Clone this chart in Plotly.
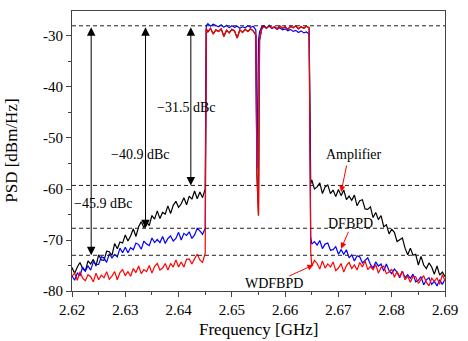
import plotly.graph_objects as go

# ---------------- data ----------------
freq_left = [round(2.620 + 0.0005 * i, 4) for i in range(51)]          # 2.6200 .. 2.6450
freq_band_l = [2.6452] + [round(2.6455 + 0.0005 * i, 4) for i in range(18)]  # 2.6452 .. 2.6540
freq_dip = [2.6545, 2.6547, 2.6550, 2.6552]
freq_band_r = [2.6556] + [round(2.6560 + 0.0005 * i, 4) for i in range(18)]  # 2.6556 .. 2.6645
freq_edge = [2.6648]
freq_right = [round(2.665 + 0.0005 * i, 4) for i in range(51)]         # 2.6650 .. 2.6900
freq = freq_left + freq_band_l + freq_dip + freq_band_r + freq_edge + freq_right

amp_left = [-75.4, -76.5, -75.3, -74.4, -75.6, -76.1, -74.1, -74.7, -73.8, -75.1,
            -72.9, -73.9, -74.0, -72.2, -72.3, -73.0, -70.7, -71.7, -70.4, -70.6,
            -69.0, -70.2, -69.2, -67.8, -69.3, -67.4, -66.4, -67.6, -66.4, -67.2,
            -65.2, -65.9, -64.3, -65.8, -64.6, -64.9, -63.3, -64.8, -63.2, -62.4,
            -63.6, -62.9, -61.7, -63.1, -61.4, -62.0, -60.4, -61.9, -60.6, -61.7, -60.0]
dfb_left = [-77.0, -77.9, -76.5, -77.0, -75.3, -76.1, -75.1, -75.9, -74.3, -74.8,
            -74.8, -73.3, -73.5, -74.4, -72.7, -73.5, -72.8, -73.3, -71.6, -72.5,
            -71.4, -72.5, -71.5, -71.9, -70.6, -70.9, -71.8, -70.2, -70.8, -71.1,
            -69.6, -70.5, -69.9, -70.5, -69.3, -70.7, -69.7, -69.2, -70.2, -69.7,
            -68.5, -70.0, -68.7, -69.1, -68.4, -69.7, -69.0, -67.7, -68.2, -68.9, -67.7]
wdf_left = [-77.1, -76.5, -77.9, -76.2, -77.5, -78.0, -76.8, -77.2, -78.2, -76.5,
            -77.8, -76.9, -77.4, -76.2, -77.7, -77.1, -76.2, -77.8, -76.4, -75.8,
            -77.0, -76.2, -77.1, -75.6, -76.4, -75.1, -76.6, -75.8, -76.2, -75.0,
            -76.5, -75.2, -74.6, -75.9, -75.5, -74.6, -75.9, -74.6, -75.3, -73.9,
            -75.3, -74.3, -75.3, -73.8, -73.7, -74.7, -73.7, -72.8, -73.9, -74.4, -72.6]

dfb_band_l = [-28.0, -27.6, -28.1, -27.7, -27.9, -28.2, -27.8, -28.3, -27.9, -28.4,
              -28.0, -28.3, -28.1, -28.5, -28.2, -28.4, -28.0, -28.3, -28.1]
wdf_band_l = [-28.6, -29.2, -28.5, -29.6, -28.8, -29.1, -28.6, -30.1, -28.9, -29.4,
              -28.7, -29.0, -30.4, -28.8, -29.3, -28.7, -29.1, -28.6, -29.0]
dfb_dip = [-28.8, -56.0, -30.8, -29.2]
wdf_dip = [-29.8, -57.0, -65.2, -30.8]
dfb_band_r = [-28.2, -28.0, -28.4, -28.1, -28.5, -28.3, -28.7, -28.4, -28.8, -28.6,
              -29.0, -28.7, -29.1, -28.9, -29.3, -29.0, -29.4, -29.2, -29.6]
wdf_band_r = [-28.6, -28.1, -28.5, -27.9, -28.4, -28.2, -28.6, -28.0, -28.5, -28.2,
              -28.7, -28.1, -28.4, -28.0, -28.6, -28.2, -28.5, -28.1, -28.4]
amp_edge = [-59.0]
dfb_edge = [-69.4]
wdf_edge = [-72.3]

amp_right = [-58.2, -60.0, -59.6, -58.8, -60.9, -59.6, -59.2, -60.9, -60.2, -61.5,
             -60.1, -61.3, -60.2, -62.1, -61.4, -62.2, -61.2, -63.3, -62.3, -62.1,
             -63.9, -64.0, -63.5, -65.6, -64.6, -66.0, -65.2, -67.4, -67.0, -68.8,
             -67.9, -68.5, -70.3, -69.9, -69.6, -71.6, -72.9, -71.6, -73.0, -72.8,
             -74.9, -73.2, -74.9, -75.6, -74.5, -75.3, -76.7, -75.1, -76.9, -76.3, -77.2]
dfb_right = [-70.8, -70.3, -71.0, -70.1, -71.7, -70.8, -70.6, -72.0, -71.9, -71.3,
             -72.8, -71.9, -72.8, -71.9, -73.5, -72.9, -74.1, -73.1, -73.3, -74.5,
             -73.9, -73.5, -74.8, -75.5, -74.3, -75.1, -74.7, -76.1, -74.7, -76.0,
             -76.6, -75.7, -76.3, -77.4, -76.1, -77.4, -76.8, -77.5, -76.7, -78.2,
             -77.9, -77.2, -78.8, -77.8, -77.4, -78.7, -78.1, -79.0, -77.8, -78.7, -77.7]
wdf_right = [-75.1, -74.0, -74.6, -75.7, -74.1, -75.5, -74.7, -75.3, -74.3, -76.0,
             -75.5, -74.6, -76.3, -75.0, -74.4, -75.6, -74.9, -75.9, -74.4, -75.3,
             -74.1, -75.8, -75.2, -75.8, -74.8, -76.5, -75.4, -75.1, -76.6, -76.3,
             -75.7, -77.3, -76.2, -77.2, -76.1, -77.8, -77.1, -78.3, -77.1, -77.2,
             -78.5, -77.7, -77.0, -78.3, -79.0, -77.5, -78.1, -77.4, -78.7, -76.8, -78.0]

psd_amplifier = amp_left + wdf_band_l + wdf_dip + wdf_band_r + amp_edge + amp_right
psd_dfbpd = dfb_left + dfb_band_l + dfb_dip + dfb_band_r + dfb_edge + dfb_right
psd_wdfbpd = wdf_left + wdf_band_l + wdf_dip + wdf_band_r + wdf_edge + wdf_right

ref_levels = [-28.0, -59.3, -67.7, -73.0]
arrow_x = [2.6236, 2.6338, 2.6423]
arrow_bottom = [-73.0, -67.7, -59.3]
dbc_labels = ["−45.9 dBc", "−40.9 dBc", "−31.5 dBc"]
dbc_x = [2.6259, 2.6327, 2.6414]
dbc_y = [-62.8, -53.2, -44.0]

x_ticks = [2.62, 2.63, 2.64, 2.65, 2.66, 2.67, 2.68, 2.69]
y_ticks = [-80, -70, -60, -50, -40, -30]
y_ticktext = ["-80", "-70", "-60", "-50", "-40", "-30"]

FONT = "Liberation Serif"

fig = go.Figure()
fig.add_trace(go.Scatter(x=freq, y=psd_amplifier, mode="lines",
                         line=dict(color="#000000", width=1.2), name="Amplifier"))
fig.add_trace(go.Scatter(x=freq, y=psd_dfbpd, mode="lines",
                         line=dict(color="#0000ff", width=1.2), name="DFBPD"))
fig.add_trace(go.Scatter(x=freq, y=psd_wdfbpd, mode="lines",
                         line=dict(color="#ff0000", width=1.2), name="WDFBPD"))

for lv in ref_levels:
    fig.add_shape(type="line", xref="paper", x0=0, x1=1, yref="y", y0=lv, y1=lv,
                  line=dict(color="#222222", width=1, dash="4px,3px"))

annotations = []
for xa, yb in zip(arrow_x, arrow_bottom):
    annotations.append(dict(x=xa, y=yb, ax=xa, ay=ref_levels[0], xref="x", yref="y",
                            axref="x", ayref="y", showarrow=True, arrowhead=2,
                            arrowside="end+start", arrowsize=1.7, arrowwidth=1,
                            arrowcolor="#000000", text="", standoff=0, startstandoff=0))
for t, xx, yy in zip(dbc_labels, dbc_x, dbc_y):
    annotations.append(dict(x=xx, y=yy, xref="x", yref="y", text=t, showarrow=False,
                            font=dict(family=FONT, size=14, color="#000000")))

labels = [("Amplifier", 2.6729, -53.2, 2.6716, -55.1, 2.6705, -60.6),
          ("DFBPD", 2.6722, -66.7, 2.6720, -68.1, 2.6705, -71.7),
          ("WDFBPD", 2.6580, -78.5, 2.6605, -77.2, 2.6653, -74.9)]
for t, tx, ty, x0, y0, x1, y1 in labels:
    annotations.append(dict(x=tx, y=ty, xref="x", yref="y", text=t, showarrow=False,
                            font=dict(family=FONT, size=14, color="#000000")))
    annotations.append(dict(x=x1, y=y1, ax=x0, ay=y0, xref="x", yref="y",
                            axref="x", ayref="y", showarrow=True, arrowhead=2,
                            arrowsize=1.2, arrowwidth=1, arrowcolor="#ff0000", text="",
                            standoff=0, startstandoff=0))

annotations.append(dict(x=0.5, y=-0.139, xref="paper", yref="paper", text="Frequency [GHz]",
                        showarrow=False, yanchor="middle",
                        font=dict(family=FONT, size=17, color="#000000")))
annotations.append(dict(x=-0.195, y=0.5, xref="paper", yref="paper", text="PSD [dBm/Hz]",
                        showarrow=False, textangle=-90,
                        font=dict(family=FONT, size=17, color="#000000")))

fig.update_layout(
    width=468, height=341,
    margin=dict(l=72, r=13, t=10, b=50),
    paper_bgcolor="white", plot_bgcolor="white",
    showlegend=False,
    font=dict(family=FONT, size=15, color="#000000"),
    annotations=annotations,
)
fig.update_xaxes(range=[2.62, 2.69], tickvals=x_ticks, ticktext=[f"{v:.2f}" for v in x_ticks],
                 ticks="outside", ticklen=5, tickwidth=1, tickcolor="#444444",
                 ticklabeloverflow="allow",
                 minor=dict(ticks="outside", ticklen=3, dtick=0.005, tick0=2.62, tickcolor="#444444"),
                 showline=True, linecolor="#444444", linewidth=1.2, mirror=True,
                 showgrid=False, zeroline=False, tickfont=dict(family=FONT, size=15))
fig.update_yaxes(range=[-80, -25.1], tickvals=y_ticks, ticktext=y_ticktext,
                 ticks="outside", ticklen=5, tickwidth=1, tickcolor="#444444",
                 minor=dict(ticks="outside", ticklen=3, dtick=5, tick0=-80, tickcolor="#444444"),
                 showline=True, linecolor="#444444", linewidth=1.2, mirror=True,
                 showgrid=False, zeroline=False, tickfont=dict(family=FONT, size=15))

fig.write_html("out.html", config={"displayModeBar": False},
               post_script="document.body.style.margin='0';document.body.style.padding='0';")
